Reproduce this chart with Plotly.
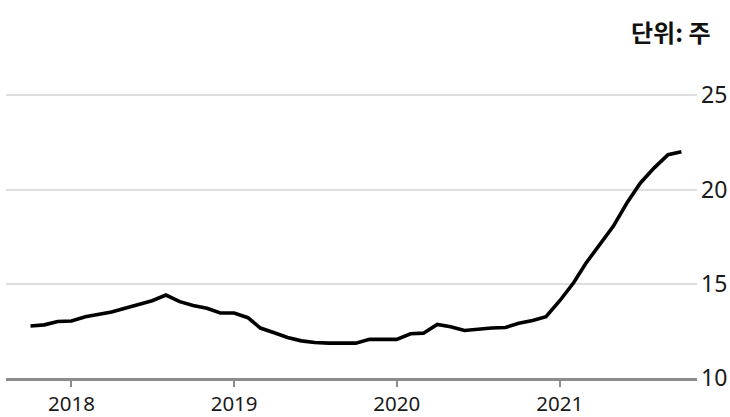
import plotly.graph_objects as go
import pandas as pd

# Monthly series, Oct 2017 - Oct 2021 (unit: weeks)
months = pd.date_range("2017-10-01", "2021-10-01", freq="MS").strftime("%Y-%m-%d").tolist()
values = [
    12.76, 12.82, 13.00,                                                        # 2017 Oct-Dec
    13.02, 13.25, 13.35, 13.50, 13.70, 13.90, 14.10, 14.40, 14.05, 13.85, 13.70, 13.45,  # 2018
    13.45, 13.20, 12.65, 12.40, 12.15, 11.97, 11.88, 11.85, 11.85, 11.85, 12.05, 12.05,  # 2019
    12.05, 12.35, 12.38, 12.84, 12.72, 12.52, 12.60, 12.65, 12.68, 12.90, 13.05, 13.25,  # 2020
    14.10, 15.05, 16.10, 17.10, 18.05, 19.30, 20.35, 21.15, 21.85, 22.00,              # 2021
]

year_ticks = ["2018-01-01", "2019-01-01", "2020-01-01", "2021-01-01"]
year_labels = ["2018", "2019", "2020", "2021"]
y_ticks = [10, 15, 20, 25]
unit_label = "단위: 주"

FONT = "Noto Sans, Open Sans, sans-serif"

fig = go.Figure()
fig.add_trace(go.Scatter(
    x=months, y=values, mode="lines",
    line=dict(color="#000000", width=3.6),
    hoverinfo="skip", showlegend=False, cliponaxis=False,
))

fig.update_layout(
    width=730, height=417,
    margin=dict(l=6, r=33, t=84, b=39),
    paper_bgcolor="white", plot_bgcolor="white",
    font=dict(family=FONT, size=21, color="#1a1a1a"),
    xaxis=dict(
        type="date", automargin=False,
        range=["2017-08-07", "2021-11-05"],
        tickvals=year_ticks, ticktext=year_labels,
        showgrid=False, zeroline=False,
        showline=True, linecolor="#8c8c8c", linewidth=2.5,
        ticks="outside", ticklen=6, tickwidth=2, tickcolor="#8c8c8c",
        ticklabelstandoff=0,
        tickfont=dict(family=FONT, size=20.5, color="#1a1a1a"),
    ),
    yaxis=dict(
        range=[10, 25.6], side="right", automargin=False,
        tickvals=y_ticks, ticktext=[str(v) for v in y_ticks],
        showgrid=True, gridcolor="#dedede", gridwidth=2,
        zeroline=False, showline=False, ticks="",
        ticklabelstandoff=3,
        tickfont=dict(family=FONT, size=23, color="#1a1a1a"),
    ),
    annotations=[dict(
        text="<b>" + unit_label + "</b>",
        xref="paper", yref="paper", x=1.0, y=1.0,
        xanchor="right", yanchor="middle",
        yshift=53, xshift=16, showarrow=False,
        font=dict(family="Noto Sans CJK KR, " + FONT, size=24, color="#111111"),
    )],
)

fig.write_html("out.html")
